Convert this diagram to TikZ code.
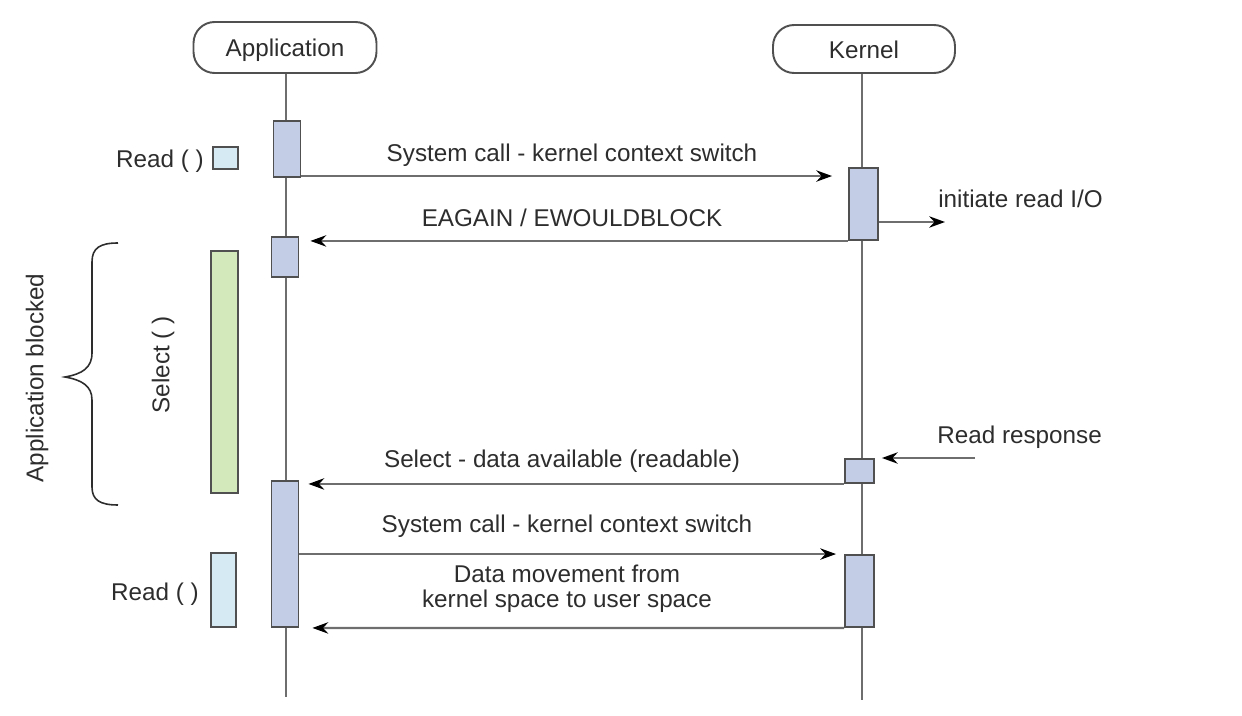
\documentclass[tikz,border=0pt]{standalone}
\usepackage{fontspec}
\setmainfont{Liberation Sans}
\usetikzlibrary{positioning, arrows.meta, calc}
\definecolor{actblue}{RGB}{195, 205, 230}
\definecolor{readblue}{RGB}{213, 234, 243}
\definecolor{selgreen}{RGB}{211, 232, 187}
\definecolor{edgegray}{RGB}{80, 80, 80}
\definecolor{linegray}{RGB}{110, 110, 110}
\definecolor{txtgray}{RGB}{45, 45, 45}

\begin{document}
\begin{tikzpicture}[x=0.02cm, y=-0.02cm,
    font=\fontsize{13.8}{14.5}\selectfont, text=txtgray,
    lane/.style={draw=edgegray, line width=1.1pt, rounded corners=12pt,
                 fill=white, inner sep=0pt, text height=1.05em, text depth=0pt},
    act/.style={draw=edgegray, fill=actblue, line width=1.1pt,
                minimum width=0.54cm, inner sep=0pt},
    tag/.style={draw=edgegray, line width=1.1pt, inner sep=0pt},
    life/.style={draw=linegray, line width=1.2pt},
    msg/.style={draw=linegray, line width=1.2pt,
                -{Stealth[length=9pt, width=6.5pt, inset=3pt, black]}},
    lbl/.style={inner sep=0pt}]
  \useasboundingbox (0,0) rectangle (1242,716);

  % lanes
  \node[lane, minimum width=3.66cm, minimum height=1.02cm] (app) at (285,47.5) {Application};
  \node[lane, minimum width=3.64cm, minimum height=0.96cm] (kern) at (864,49) {Kernel};
  \coordinate (append) at (286,697);
  \coordinate (kernend) at (862,700);
  \draw[life] (app.south -| append) -- (append);
  \draw[life] (kern.south -| kernend) -- (kernend);

  % activations
  \foreach \nm/\x/\y/\h in {A1/287/149/1.12, A2/285/257/0.80, A3/285/554/2.92}
    \node[act, minimum height=\h cm] (\nm) at (\x,\y) {};
  \foreach \nm/\x/\y/\h in {K1/863.5/204/1.44, K2/859.5/471/0.48, K3/859.5/591/1.44}
    \node[act, minimum width=0.58cm, minimum height=\h cm] (\nm) at (\x,\y) {};

  % calls on the application side
  \node[tag, fill=readblue, minimum width=0.5cm, minimum height=0.44cm] (rd1) at (225.5,158) {};
  \node[tag, fill=selgreen, minimum width=0.54cm, minimum height=4.84cm] (sel) at (224.5,372) {};
  \node[tag, fill=readblue, minimum width=0.5cm, minimum height=1.48cm] (rd2) at (223.5,590) {};
  \node[lbl, left=0.16cm of rd1, yshift=-1.7pt] (rd1l) {Read ( )};
  \node[lbl, left=0.22cm of rd2, yshift=-2.3pt] (rd2l) {Read ( )};
  \node[lbl, rotate=90] (sell) at (163,365) {Select ( )};
  \node[lbl, rotate=90] (blk) at (37,378) {Application blocked};

  % brace
  \draw[txtgray, line width=0.9pt] (118,243) .. controls (100,243) and (92,248) .. (92,262)
        -- (92,353) .. controls (92,368) and (82,374) .. (65,377)
        .. controls (82,380) and (92,386) .. (92,400)
        -- (92,487) .. controls (92,500) and (100,505) .. (118,505);

  % messages
  \coordinate (c1) at ([yshift=1.1pt]A1.south east);
  \draw[msg, shorten >=0.32cm] (c1) -- (c1 -| K1.west);
  \draw[msg, shorten >=0.22cm] (K1.south west) -- (K1.south west -| A2.east);
  \coordinate (io) at (945,222);
  \draw[msg] (K1.east |- io) -- (io);
  \coordinate (rr) at (975,458);
  \draw[msg, shorten >=0.14cm] (rr) -- (rr -| K2.east);
  \draw[msg, shorten >=0.18cm] (K2.south west) -- (K2.south west -| A3.east);
  \draw[msg, shorten >=0.16cm] (K3.north west -| A3.east) -- (K3.north west);
  \draw[msg, shorten >=0.26cm] (K3.south west) -- (A3.south east);

  % labels
  \node[lbl, anchor=base] (sc1) at (572,162) {System call - kernel context switch};
  \node[lbl, anchor=base] (eag) at (572,227) {EAGAIN / EWOULDBLOCK};
  \node[lbl, anchor=base west] (ini) at (938,208) {initiate read I/O};
  \node[lbl, anchor=base west] (rresp) at (937,443) {Read response};
  \node[lbl, anchor=base] (seld) at (562,468) {Select - data available (readable)};
  \node[lbl, anchor=base] (sc2) at (567,533) {System call - kernel context switch};
  \node[lbl, align=center] (mov) at (567,589) {Data movement from\\kernel space to user space};
\end{tikzpicture}
\end{document}
